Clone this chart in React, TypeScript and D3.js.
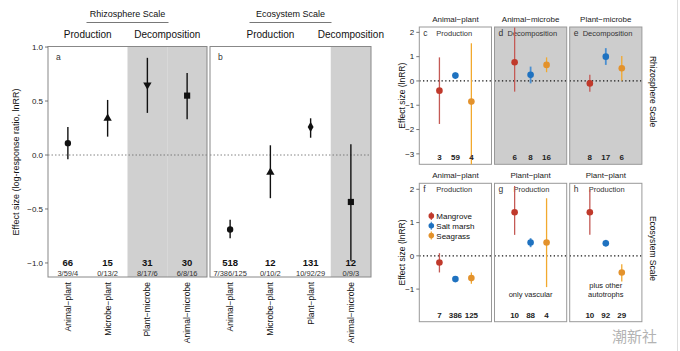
import React from "react";
import * as d3 from "d3";

// ---- left figure (a, b) ----
const rhizoCats = ["Animal−plant", "Microbe−plant", "Plant−microbe", "Animal−microbe"];
const rhizoMean = [0.11, 0.34, 0.65, 0.55];
const rhizoLow = [-0.04, 0.17, 0.39, 0.33];
const rhizoHigh = [0.26, 0.51, 0.9, 0.76];
const rhizoShape = ["circle", "triangle", "triangleDown", "square"];
const rhizoN = ["66", "15", "31", "30"];
const rhizoSub = ["3/59/4", "0/13/2", "8/17/6", "6/8/16"];
const rhizoProcess = ["Production", "Production", "Decomposition", "Decomposition"];

const ecoCats = ["Animal−plant", "Microbe−plant", "Plant−plant", "Animal−microbe"];
const ecoMean = [-0.69, -0.16, 0.26, -0.435];
const ecoLow = [-0.77, -0.4, 0.16, -0.98];
const ecoHigh = [-0.6, 0.09, 0.34, 0.1];
const ecoShape = ["circle", "triangle", "diamond", "square"];
const ecoN = ["518", "12", "131", "12"];
const ecoSub = ["7/386/125", "0/10/2", "10/92/29", "0/9/3"];
const ecoProcess = ["Production", "Production", "Production", "Decomposition"];

const leftTicks = [-1, -0.5, 0, 0.5, 1];

// ---- right figure (c - h) ----
const habitats = ["Mangrove", "Salt marsh", "Seagrass"];
const habitatColor = ["#c0392b", "#1f72c0", "#e3922c"];
const habitatLine = ["#c45a55", "#4a8fd0", "#f2a92e"];

const cMean = [-0.4, 0.22, -0.85];
const cLow = [-1.77, 0.1, -3.45];
const cHigh = [0.97, 0.35, 1.55];
const cN = ["3", "59", "4"];

const dMean = [0.77, 0.25, 0.66];
const dLow = [-0.44, -0.1, 0.36];
const dHigh = [2.2, 0.59, 0.97];
const dN = ["6", "8", "16"];

const eMean = [-0.1, 1.0, 0.52];
const eLow = [-0.44, 0.66, 0.01];
const eHigh = [0.25, 1.35, 1.03];
const eN = ["8", "17", "6"];

const fMean = [-0.2, -0.7, -0.67];
const fLow = [-0.5, -0.78, -0.84];
const fHigh = [0.08, -0.62, -0.5];
const fN = ["7", "386", "125"];

const gMean = [1.31, 0.4, 0.4];
const gLow = [0.63, 0.26, -0.94];
const gHigh = [2.1, 0.53, 1.73];
const gN = ["10", "88", "4"];

const hMean = [1.31, 0.38, -0.5];
const hLow = [0.63, 0.28, -0.77];
const hHigh = [1.98, 0.48, -0.25];
const hN = ["10", "92", "29"];

const topTicks = [-3, -2, -1, 0, 1, 2];
const bottomTicks = [-1, 0, 1, 2];

const font = "Liberation Sans, Arial, sans-serif";
const minus = (s: string) => s.replace("-", "−");

const symbolFor = (shape: string) => {
  if (shape === "triangle" || shape === "triangleDown")
    return d3.symbol().type(d3.symbolTriangle).size(30)()!;
  if (shape === "square") return d3.symbol().type(d3.symbolSquare).size(38)()!;
  if (shape === "diamond") return d3.symbol().type(d3.symbolDiamond).size(30)()!;
  return d3.symbol().type(d3.symbolCircle).size(32)()!;
};

const yLeft = d3.scaleLinear().domain([-1.13, 1.005]).range([277, 46.5]);

type LeftProps = {
  x0: number; x1: number; cats: string[]; mean: number[]; low: number[]; high: number[];
  shapes: string[]; n: string[]; sub: string[]; process: string[]; letter: string;
};

const LeftPanel = ({ x0, x1, cats, mean, low, high, shapes, n, sub, process, letter }: LeftProps) => {
  const x = d3.scaleBand().domain(cats).range([x0, x1]);
  const top = yLeft.range()[1];
  const bottom = yLeft.range()[0];
  return (
    <g>
      <rect x={x0} y={top} width={x1 - x0} height={bottom - top} fill="#fff" />
      {cats.map((c, i) =>
        process[i] === "Decomposition" ? (
          <rect key={c} x={x(c)} y={top} width={x.bandwidth()} height={bottom - top} fill="#d0d0d0" />
        ) : null
      )}
      <line x1={x0} x2={x1} y1={yLeft(0)} y2={yLeft(0)} stroke="#666" strokeWidth={0.8} strokeDasharray="1.5,2" />
      <rect x={x0} y={top} width={x1 - x0} height={bottom - top} fill="none" stroke="#888" strokeWidth={1} />
      <text x={x0 + 8} y={top + 13} fontSize={8.5} fill="#333">{letter}</text>
      {cats.map((c, i) => {
        const cx = x(c)! + x.bandwidth() / 2;
        return (
          <g key={c}>
            <line x1={cx} x2={cx} y1={yLeft(low[i])} y2={yLeft(high[i])} stroke="#111" strokeWidth={1.4} />
            <path
              d={symbolFor(shapes[i])}
              transform={`translate(${cx},${yLeft(mean[i])})${shapes[i] === "triangleDown" ? " rotate(180)" : ""}`}
              fill="#111"
            />
            <text x={cx} y={yLeft(-1) + 3} textAnchor="middle" fontSize={9.5} fontWeight="bold" fill="#111">{n[i]}</text>
            <text x={cx} y={yLeft(-1) + 13} textAnchor="middle" fontSize={7.5} fill="#333">{sub[i]}</text>
            <text
              transform={`translate(${cx + 3},${bottom + 5}) rotate(-90)`}
              textAnchor="end"
              fontSize={8.5}
              fill="#111"
            >
              {c}
            </text>
          </g>
        );
      })}
    </g>
  );
};

const ScaleHeader = ({ x0, x1, cats, process, title }: { x0: number; x1: number; cats: string[]; process: string[]; title: string }) => {
  const x = d3.scaleBand().domain(cats).range([x0, x1]);
  const groups = Array.from(new Set(process));
  const mid = (x0 + x1) / 2;
  return (
    <g>
      <text x={mid} y={17} textAnchor="middle" fontSize={9} fill="#111">{title}</text>
      <line x1={mid - 41} x2={mid + 41} y1={22.5} y2={22.5} stroke="#555" strokeWidth={0.8} />
      {groups.map((g) => {
        const idx = cats.filter((_, i) => process[i] === g);
        const a = x(idx[0])!;
        const b = x(idx[idx.length - 1])! + x.bandwidth();
        return (
          <text key={g} x={(a + b) / 2} y={38} textAnchor="middle" fontSize={10} fill="#111">{g}</text>
        );
      })}
    </g>
  );
};

// right figure panels
const colX = d3.scaleBand<number>().domain([0, 1, 2]).range([419.3, 641.9]).paddingInner(0.04);
const yTop = d3.scaleLinear().domain([-3.43, 2.22]).range([164.3, 27]);
const yBottom = d3.scaleLinear().domain([-1.98, 2.18]).range([321.7, 183.3]);

const rightPanels = [
  { letter: "c", strip: "Animal−plant", proc: "Production", col: 0, y: yTop, mean: cMean, low: cLow, high: cHigh, n: cN, note: [] as string[], grey: false },
  { letter: "d", strip: "Animal−microbe", proc: "Decomposition", col: 1, y: yTop, mean: dMean, low: dLow, high: dHigh, n: dN, note: [], grey: true },
  { letter: "e", strip: "Plant−microbe", proc: "Decomposition", col: 2, y: yTop, mean: eMean, low: eLow, high: eHigh, n: eN, note: [], grey: true },
  { letter: "f", strip: "Animal−plant", proc: "Production", col: 0, y: yBottom, mean: fMean, low: fLow, high: fHigh, n: fN, note: [], grey: false },
  { letter: "g", strip: "Plant−plant", proc: "Production", col: 1, y: yBottom, mean: gMean, low: gLow, high: gHigh, n: gN, note: ["only vascular"], grey: false },
  { letter: "h", strip: "Plant−plant", proc: "Production", col: 2, y: yBottom, mean: hMean, low: hLow, high: hHigh, n: hN, note: ["plus other", "autotrophs"], grey: false },
];

const RightPanel = ({ p }: { p: (typeof rightPanels)[number] }) => {
  const x0 = colX(p.col)!;
  const w = colX.bandwidth();
  const [bottom, top] = p.y.range();
  const hx = d3.scalePoint<string>().domain(habitats).range([x0, x0 + w]).padding(1.26);
  const clip = (v: number) => Math.max(p.y.domain()[0], Math.min(p.y.domain()[1], v));
  const procX = p.col === 0 ? 17 : p.y === yBottom ? 19 : 13;
  return (
    <g>
      <rect x={x0} y={top} width={w} height={bottom - top} fill={p.grey ? "#cdcdcd" : "#fff"} />
      <line x1={x0} x2={x0 + w} y1={p.y(0)} y2={p.y(0)} stroke="#111" strokeWidth={1.2} strokeDasharray="1.3,2.4" />
      <rect x={x0} y={top} width={w} height={bottom - top} fill="none" stroke="#999" strokeWidth={1} />
      <text x={x0 + w / 2} y={top - 5} textAnchor="middle" fontSize={8} fill="#222">{p.strip}</text>
      <text x={x0 + 4} y={top + 9} fontSize={8.5} fill="#333">{p.letter}</text>
      <text x={x0 + procX} y={top + 8.5} fontSize={7.5} fill="#333">{p.proc}</text>
      {habitats.map((h, i) => {
        const cx = hx(h)!;
        return (
          <g key={h}>
            <line
              x1={cx} x2={cx} y1={p.y(clip(p.low[i]))} y2={p.y(clip(p.high[i]))}
              stroke={habitatLine[i]} strokeWidth={i === 1 ? 1.8 : 1.3}
            />
            <circle cx={cx} cy={p.y(p.mean[i])} r={3.3} fill={habitatColor[i]} />
            <text x={cx} y={bottom - 4} textAnchor="middle" fontSize={8} fontWeight="bold" fill="#222">{p.n[i]}</text>
          </g>
        );
      })}
      {p.note.map((t, k) => (
        <text key={t} x={x0 + w / 2} y={bottom - 25 - (p.note.length - 1 - k) * 8.5} textAnchor="middle" fontSize={7.5} fill="#222">{t}</text>
      ))}
    </g>
  );
};

const RightAxis = ({ y, ticks }: { y: d3.ScaleLinear<number, number>; ticks: number[] }) => {
  const x0 = colX(0)!;
  return (
    <g>
      {ticks.map((t) => (
        <g key={t}>
          <line x1={x0 - 3} x2={x0} y1={y(t)} y2={y(t)} stroke="#555" strokeWidth={0.8} />
          <text x={x0 - 5} y={y(t) + 2.8} textAnchor="end" fontSize={8} fill="#222">{minus(String(t))}</text>
        </g>
      ))}
      <text
        transform={`translate(${x0 - 14},${(y.range()[0] + y.range()[1]) / 2}) rotate(-90)`}
        textAnchor="middle" fontSize={8.5} fill="#111"
      >
        Effect size (lnRR)
      </text>
    </g>
  );
};

export default function App() {
  const legendX = colX(0)! + 12;
  const legendY = yBottom(1.2);
  return (
    <svg width={680} height={351} style={{ position: "absolute", left: 0, top: 0, fontFamily: font, background: "#fff" }}>
      <rect width={680} height={351} fill="#fff" />
      {/* left figure */}
      <ScaleHeader x0={48} x1={207} cats={rhizoCats} process={rhizoProcess} title="Rhizosphere Scale" />
      <ScaleHeader x0={210} x1={371} cats={ecoCats} process={ecoProcess} title="Ecosystem Scale" />
      <LeftPanel x0={48} x1={207} cats={rhizoCats} mean={rhizoMean} low={rhizoLow} high={rhizoHigh}
        shapes={rhizoShape} n={rhizoN} sub={rhizoSub} process={rhizoProcess} letter="a" />
      <LeftPanel x0={210} x1={371} cats={ecoCats} mean={ecoMean} low={ecoLow} high={ecoHigh}
        shapes={ecoShape} n={ecoN} sub={ecoSub} process={ecoProcess} letter="b" />
      {leftTicks.map((t) => (
        <g key={t}>
          <line x1={45} x2={48} y1={yLeft(t)} y2={yLeft(t)} stroke="#555" strokeWidth={0.8} />
          <text x={43} y={yLeft(t) + 3} textAnchor="end" fontSize={8} fill="#222">{minus(d3.format(".1f")(t))}</text>
        </g>
      ))}
      <text transform={`translate(19,162) rotate(-90)`} textAnchor="middle" fontSize={9} fill="#111">
        Effect size (log-response ratio, lnRR)
      </text>

      {/* right figure */}
      {rightPanels.map((p) => (
        <RightPanel key={p.letter} p={p} />
      ))}
      <RightAxis y={yTop} ticks={topTicks} />
      <RightAxis y={yBottom} ticks={bottomTicks} />
      {habitats.map((h, i) => (
        <g key={h}>
          <line x1={legendX} x2={legendX} y1={legendY + i * 9.8 - 4} y2={legendY + i * 9.8 + 4} stroke={habitatLine[i]} strokeWidth={1.2} />
          <circle cx={legendX} cy={legendY + i * 9.8} r={2.8} fill={habitatColor[i]} />
          <text x={legendX + 5} y={legendY + i * 9.8 + 3} fontSize={8} fill="#111">{h}</text>
        </g>
      ))}
      <text transform={`translate(650,${(yTop.range()[0] + yTop.range()[1]) / 2 - 4}) rotate(90)`} textAnchor="middle" fontSize={8.5} fill="#111">
        Rhizosphere Scale
      </text>
      <text transform={`translate(650,${(yBottom.range()[0] + yBottom.range()[1]) / 2 - 4}) rotate(90)`} textAnchor="middle" fontSize={8.5} fill="#111">
        Ecosystem Scale
      </text>
      <line x1={677.5} x2={677.5} y1={0} y2={351} stroke="#ddd" strokeWidth={1} />
      <text x={612} y={342} fontSize={15} fill="#9a9a9a" opacity={0.75} fontFamily="Noto Sans CJK SC">潮新社</text>
    </svg>
  );
}
